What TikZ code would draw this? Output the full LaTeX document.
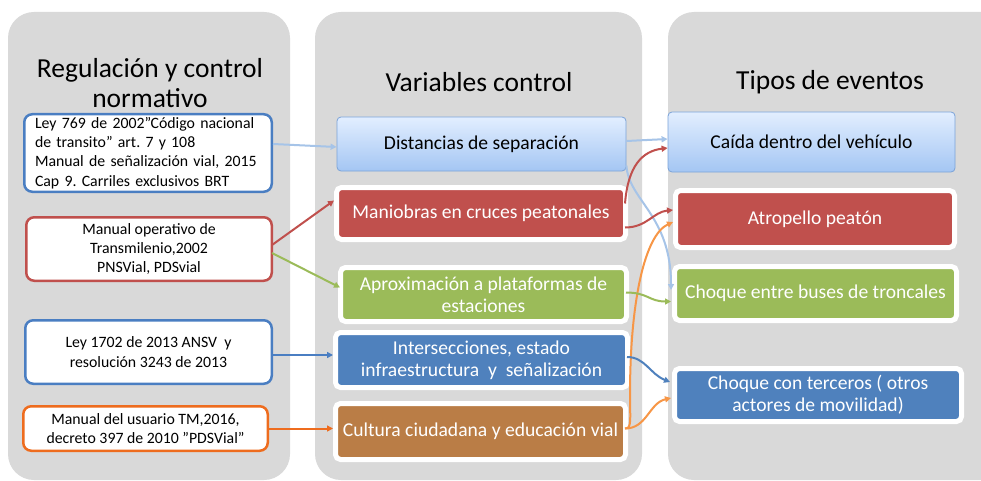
\documentclass[tikz,border=0pt]{standalone}
\usepackage{fontspec}
\setmainfont{Carlito}
\usetikzlibrary{arrows.meta,calc,shadows}
\definecolor{panel}{HTML}{D9D9D9}
\definecolor{cblue}{HTML}{4A7EC2}
\definecolor{cred}{HTML}{C0504D}
\definecolor{cgreen}{HTML}{9BBB59}
\definecolor{cfblue}{HTML}{4F81BD}
\definecolor{cbrown}{HTML}{BA7D46}
\definecolor{corange}{HTML}{EE6C1E}
\definecolor{clorange}{HTML}{F79646}
\definecolor{clblue}{HTML}{A6C4E8}
\definecolor{lbtop}{HTML}{E2EEFF}
\definecolor{lbbot}{HTML}{A4C6F3}
\definecolor{lbdraw}{HTML}{7BA3D8}
\frenchspacing
\tikzset{
  paneltitle/.style={font=\fontsize{27.5}{30}\selectfont, align=center, text=black},
  srcbox/.style={draw=#1, fill=white, line width=2.5pt, rounded corners=8pt, inner sep=0pt,
    align=center, font=\fontsize{15.8}{19.3}\selectfont},
  colbox/.style={draw=white, fill=#1, line width=5pt, rounded corners=5pt, inner sep=0pt,
    text=white, align=center, font=\fontsize{19.6}{22}\selectfont,
    drop shadow={shadow xshift=1.2pt, shadow yshift=-1.5pt, opacity=0.25}},
  lbbox/.style={draw=lbdraw, line width=0.8pt, rounded corners=4pt, top color=lbtop, bottom color=lbbot,
    inner sep=0pt, align=center, font=\fontsize{19.6}{22}\selectfont},
  conn/.style={draw=#1, line width=2pt, -{Triangle[length=6pt,width=6pt]}},
}
\begin{document}
\begin{tikzpicture}[x=1pt,y=-1pt]
\clip (0,0) rectangle (981,481);
\fill[white] (0,0) rectangle (981,481);
% panels
\fill[panel, rounded corners=26pt] (8,12) rectangle (290,480);
\fill[panel, rounded corners=26pt] (315,12) rectangle (642,480);
\fill[panel, rounded corners=26pt] (668,12) rectangle (1020,480);
% titles
\node[paneltitle] (t1) at (150,83) {Regulación y control\\normativo};
\node[paneltitle] (t2) at (479,82) {Variables control};
\node[paneltitle] (t3) at (830,82) {Tipos de eventos};
% left boxes
\node[srcbox=cblue, minimum width=247.5pt, minimum height=77.5pt, align=left, text width=226pt] (L1) at (148,153)
  {Ley 769 de 2002”Código nacional\\de transito” art. 7 y 108\\Manual de señalización vial, 2015\\Cap 9. Carriles exclusivos BRT};
\node[srcbox=cred, minimum width=245.5pt, minimum height=63.5pt] (L2) at (149,249)
  {Manual operativo de\\Transmilenio,2002\\PNSVial, PDSvial};
\node[srcbox=cblue, minimum width=246.5pt, minimum height=63.5pt] (L3) at (148.5,352)
  {Ley 1702 de 2013 ANSV\ \ y\\resolución 3243 de 2013};
\node[srcbox=corange, minimum width=244.5pt, minimum height=44.5pt] (L4) at (145.5,428.5)
  {Manual del usuario TM,2016,\\decreto 397 de 2010 ”PDSVial”};
% middle boxes
\node[lbbox, minimum width=289pt, minimum height=54pt] (M1) at (481.5,144) {Distancias de separación};
\node[colbox=cred, minimum width=289pt, minimum height=52pt] (M2) at (481,213.5) {Maniobras en cruces peatonales};
\node[colbox=cgreen, minimum width=286pt, minimum height=54pt] (M3) at (483.5,294.5) {Aproximación a plataformas de\\estaciones};
\node[colbox=cfblue, minimum width=292pt, minimum height=55pt] (M4) at (481.5,360) {Intersecciones, estado\\infraestructura\ \ y\ \ señalización};
\node[colbox=cbrown, minimum width=290pt, minimum height=56pt] (M5) at (480.5,431.5) {Cultura ciudadana y educación vial};
% right boxes
\node[lbbox, minimum width=287pt, minimum height=60pt] (R1) at (811.5,142) {Caída dentro del vehículo};
\node[colbox=cred, minimum width=279pt, minimum height=57pt] (R2) at (815,219) {Atropello peatón};
\node[colbox=cgreen, minimum width=282pt, minimum height=54pt] (R3) at (815.5,293.5) {Choque entre buses de troncales};
\node[colbox=cfblue, minimum width=287pt, minimum height=53pt] (R4) at (818,395) {Choque con terceros ( otros\\actores de movilidad)};
% left connectors
\draw[conn=clblue] (L1.east |- M1.west) -- ($(M1.west)+(0,3)$);
\draw[conn=cred] ($(L2.east)+(-1,-4)$) -- ($(M2.west)+(0,-13)$);
\draw[conn=cgreen] ($(L2.east)+(-1,4)$) -- ($(M3.west)+(2,-7)$);
\draw[conn=cblue] ($(L3.east)+(0,3)$) -- ($(L3.east -| M4.west)+(0,3)$);
\draw[conn=corange] (L4.east) -- (L4.east -| M5.west);
% middle to right connectors
\draw[conn=clblue] ($(M1.east)+(0,-3)$) -- ($(R1.west)+(0,-3)$);
\draw[conn=clblue] ($(M1.south east)+(0,-6)$) .. controls +(2,35) and +(0,-75) .. ($(R3.north west)+(-1,26)$);
\draw[conn=cred] ($(M2.east)+(-3,-10)$) .. controls +(3,-38) and +(-25,3) .. ($(R1.west)+(0,6)$);
\draw[conn=cred] ($(M2.east)+(-3,14)$) .. controls +(22,0) and +(-20,2) .. ($(R2.west)+(0,-9)$);
\draw[conn=clorange] ($(M5.east)+(-3,-3)$) .. controls +(7,0) and +(0,25) .. (630,395)
   .. controls (630,300) and (645,235) .. ($(R2.west)+(0,3)$);
\draw[conn=clorange] ($(M5.east)+(-3,-3)$) .. controls +(22,0) and +(-22,5) .. ($(R4.west)+(-1,3)$);
\draw[conn=cgreen] ($(M3.east)+(-3,-2)$) .. controls +(22,0) and +(-22,0) .. ($(R3.west)+(-1,8)$);
\draw[conn=cfblue] ($(M4.east)+(-3,-3)$) .. controls +(18,0) and +(-20,-8) .. ($(R4.west)+(-2,-13)$);
\end{tikzpicture}
\end{document}
